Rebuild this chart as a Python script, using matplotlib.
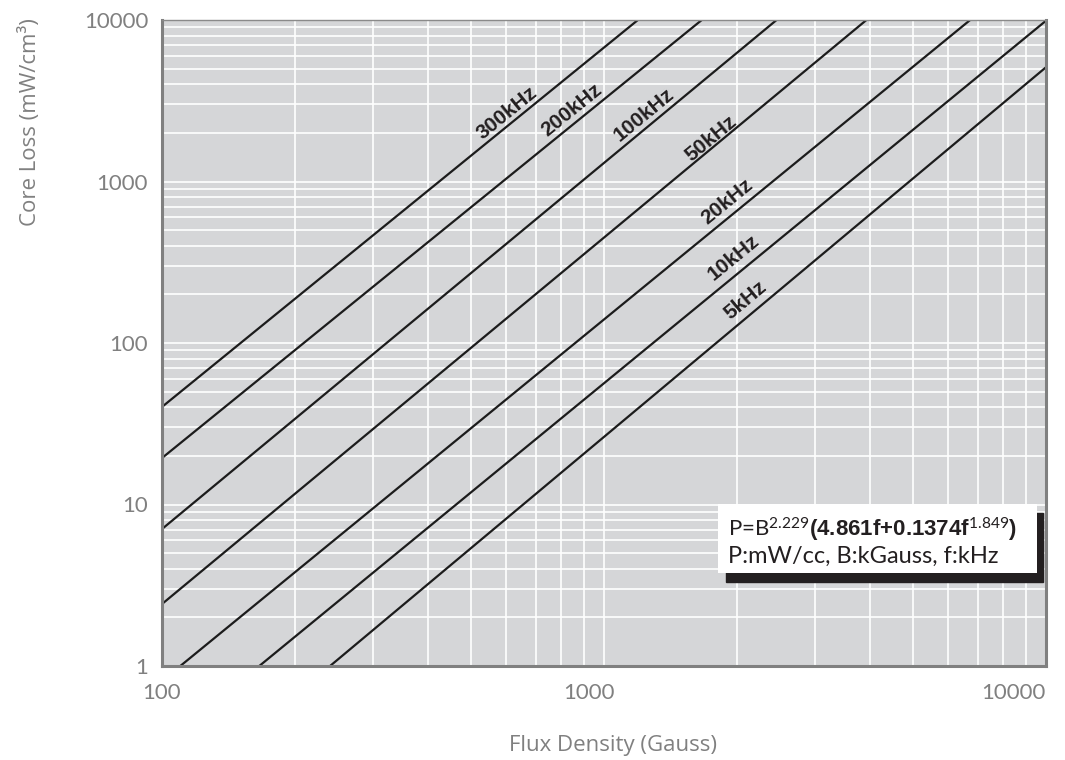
import numpy as np
import matplotlib.pyplot as plt
from matplotlib.patches import Rectangle
from matplotlib.ticker import NullFormatter
import matplotlib.transforms as mtransforms

plt.rcParams['font.family'] = ['Lato', 'DejaVu Sans']
plt.rcParams['mathtext.fontset'] = 'custom'
plt.rcParams['mathtext.rm'] = 'Lato'
plt.rcParams['mathtext.it'] = 'Lato:italic'
plt.rcParams['mathtext.bf'] = 'Liberation Sans:bold'

# lines: start / end point of each (straight in log-log)
freqs = ['300kHz', '200kHz', '100kHz', '50kHz', '20kHz', '10kHz', '5kHz']
b_start = [100, 100, 100, 100, 110, 166, 240]
p_start = [40.2, 19.4, 7.05, 2.42, 1, 1, 1]
b_end = [1193, 1664, 2457, 3924, 6736, 10000, 10000]
p_end = [10000, 10000, 10000, 10000, 10000, 9900, 5100]

x_ticks = [100, 1000, 10000]
y_ticks = [1, 10, 100, 1000, 10000]

# where the frequency labels sit (B, P)
label_pos = [(604, 2655), (847, 2772), (1230, 2582), (1744, 1859),
             (1896, 747), (1966, 336), (2092, 185)]

W, H = 1065, 760
fig = plt.figure(figsize=(W/100, H/100), dpi=100)
ax = fig.add_axes([162/W, 94/H, 884/W, 646/H])
ax.set_xscale('log')
ax.set_yscale('log')
ax.set_xlim(100, 10000)
ax.set_ylim(1, 10000)
ax.set_facecolor('#d5d6d8')
ax.grid(True, which='both', color='white', lw=1.2)
ax.set_axisbelow(True)

for i in range(len(freqs)):
    ax.plot([b_start[i], b_end[i]], [p_start[i], p_end[i]],
            color='#1c1c1c', lw=1.6, solid_capstyle='butt')

for i, name in enumerate(freqs):
    a = ax.transData.transform((b_start[i], p_start[i]))
    b = ax.transData.transform((b_end[i], p_end[i]))
    ang = np.degrees(np.arctan2(b[1]-a[1], b[0]-a[0]))
    ax.text(label_pos[i][0], label_pos[i][1], name, rotation=ang,
            rotation_mode='anchor', ha='center', va='center',
            fontsize=15, fontweight='bold', family='Liberation Sans',
            color='#231f20')

ax.set_xticks(x_ticks)
ax.set_xticklabels([str(v) for v in x_ticks])
ax.set_yticks(y_ticks)
ax.set_yticklabels([str(v) for v in y_ticks])
ax.xaxis.set_minor_formatter(NullFormatter())
ax.yaxis.set_minor_formatter(NullFormatter())
ax.tick_params(which='both', length=0, labelsize=16, labelcolor='#808080')
ax.tick_params(axis='x', pad=12)
ax.tick_params(axis='y', pad=10)

xt = ax.xaxis.get_major_ticks()
xt[1].label1.set_transform(xt[1].label1.get_transform() +
                           mtransforms.ScaledTranslation(-0.15, 0, fig.dpi_scale_trans))
xt[2].label1.set_horizontalalignment('right')

for s in ['left', 'bottom', 'right']:
    ax.spines[s].set_color('#808080')
    ax.spines[s].set_linewidth(2.2)
ax.spines['top'].set_color('#8a8a8a')
ax.spines['top'].set_linewidth(1.0)

# formula box with shadow
fig.add_artist(Rectangle((726/W, 1-582/H), (1043-726)/W, (582-513)/H,
                         transform=fig.transFigure, color='#231f20', zorder=5))
fig.add_artist(Rectangle((718/W, 1-573/H), (1037-718)/W, (573-504)/H,
                         transform=fig.transFigure, fc='white', ec='none', zorder=6))
fig.text(728/W, 1-537/H,
         r'P=B$^{2.229}\mathbf{(4.861f{+}0.1374f}^{1.849}\mathbf{)}$',
         fontsize=16, va='baseline', color='#231f20', zorder=7)
fig.text(728/W, 1-563/H, 'P:mW/cc, B:kGauss, f:kHz',
         fontsize=17, va='baseline', color='#231f20', zorder=7)

fig.text(30/W, 1-122/H, 'Core Loss (mW/cm³)', rotation=90, family='Open Sans',
         ha='center', va='center', fontsize=16, color='#808080')
fig.text(613/W, 1-745/H, 'Flux Density (Gauss)', family='Open Sans',
         ha='center', va='center', fontsize=16, color='#808080')

fig.savefig('out.png', dpi=100)
